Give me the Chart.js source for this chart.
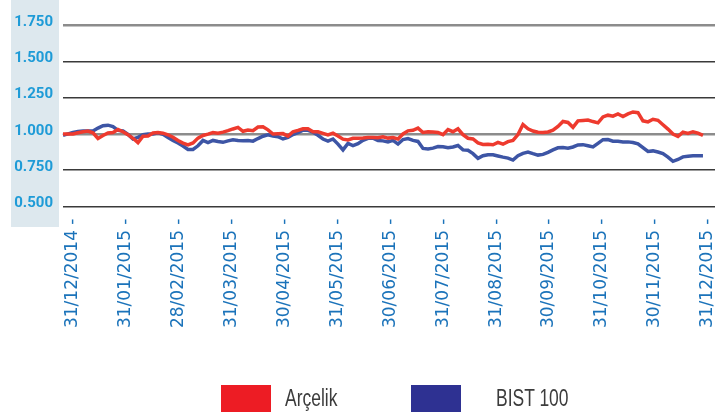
<!DOCTYPE html>
<html>
<head>
<meta charset="utf-8">
<script src="https://cdn.jsdelivr.net/npm/chart.js@4.4.1/dist/chart.umd.min.js"></script>
<style>
  html, body { margin: 0; padding: 0; background: #fff; }
  #wrap { position: relative; width: 715px; height: 413px; overflow: hidden; }
  .sw { position: absolute; top: 385px; width: 50px; height: 27px; }
  .lg { position: absolute; top: 385px; height: 27px; line-height: 27px;
        font-family: "Liberation Sans", Arial, sans-serif;
        font-size: 23px; color: #3c3c3c; white-space: nowrap;
        transform: scaleX(0.76); transform-origin: left center; }
</style>
</head>
<body>
<div id="wrap">
  <canvas id="mycanvas" width="715" height="413"></canvas>
  <div id="legend"></div>
</div>
<script>
// month-end tick labels (equally spaced on the axis)
var monthLabels = ['31/12/2014', '31/01/2015', '28/02/2015', '31/03/2015', '30/04/2015',
  '31/05/2015', '30/06/2015', '31/07/2015', '31/08/2015', '30/09/2015',
  '31/10/2015', '30/11/2015', '31/12/2015'];

var seriesNames = ['Arçelik', 'BIST 100'];
var lineColors = ['#ee3a2e', '#3d55a5'];
var legendColors = ['#ed1c24', '#2e3192'];

// normalised performance (31/12/2014 = 1), sampled evenly along the year
var arcelik = [
  1.0, 1.0, 1.0, 1.008, 1.015, 1.02, 1.008, 0.969, 0.989, 1.007,
  1.01, 1.03, 1.015, 0.995, 0.97, 0.94, 0.984, 0.985, 1.006, 1.009,
  1.005, 0.994, 0.977, 0.955, 0.937, 0.924, 0.938, 0.971, 0.989, 0.998,
  1.009, 1.005, 1.012, 1.022, 1.034, 1.045, 1.018, 1.027, 1.022, 1.047,
  1.049, 1.028, 0.999, 1.001, 1.002, 0.985, 1.015, 1.024, 1.035, 1.035,
  1.015, 1.015, 1.004, 0.993, 1.005, 0.986, 0.964, 0.958, 0.97, 0.97,
  0.972, 0.975, 0.975, 0.973, 0.98, 0.971, 0.975, 0.965, 1.0, 1.021,
  1.025, 1.04, 1.01, 1.014, 1.013, 1.01, 0.995, 1.03, 1.015, 1.035,
  0.995, 0.97, 0.965, 0.938, 0.927, 0.929, 0.925, 0.941, 0.929, 0.947,
  0.955, 0.995, 1.065, 1.035, 1.02, 1.011, 1.009, 1.013, 1.025, 1.051,
  1.086, 1.079, 1.045, 1.09, 1.093, 1.096, 1.085, 1.076, 1.117, 1.129,
  1.122, 1.137, 1.12, 1.138, 1.151, 1.146, 1.09, 1.083, 1.101, 1.094,
  1.063, 1.033, 0.999, 0.983, 1.012, 1.003, 1.015, 1.005, 0.99
];

var bist100 = [
  0.99, 1.0, 1.01, 1.017, 1.02, 1.02, 1.02, 1.04, 1.056, 1.06,
  1.05, 1.024, 1.02, 0.996, 0.965, 0.976, 0.994, 1.0, 1.0, 1.007,
  0.997, 0.976, 0.955, 0.937, 0.917, 0.893, 0.893, 0.918, 0.955, 0.94,
  0.955, 0.948, 0.942, 0.952, 0.96, 0.954, 0.952, 0.954, 0.95, 0.968,
  0.984, 0.993, 0.985, 0.981, 0.965, 0.976, 0.996, 1.008, 1.025, 1.025,
  1.012, 0.99, 0.965, 0.95, 0.965, 0.93, 0.89, 0.935, 0.92, 0.933,
  0.956, 0.97, 0.97, 0.955, 0.952, 0.945, 0.955, 0.93, 0.961, 0.968,
  0.955, 0.948, 0.9, 0.896, 0.902, 0.913, 0.911, 0.904, 0.91, 0.92,
  0.89, 0.887, 0.864, 0.832, 0.85, 0.857, 0.856, 0.848, 0.84, 0.833,
  0.82, 0.85, 0.866, 0.875, 0.864, 0.854, 0.859, 0.873, 0.89, 0.904,
  0.906, 0.902, 0.91, 0.924, 0.926, 0.918, 0.91, 0.935, 0.96, 0.961,
  0.95, 0.949, 0.945, 0.945, 0.941, 0.932, 0.905, 0.879, 0.883, 0.875,
  0.864, 0.84, 0.811, 0.824, 0.842, 0.846, 0.85, 0.85, 0.85
];

var yTicks = [0.5, 0.75, 1.0, 1.25, 1.5, 1.75];

// x is measured in months from 31/12/2014; first sample sits a little before it
var firstMonth = -0.19;
var monthsPerSample = 0.09455;

function toPoints(vals) {
  return vals.map(function(v, i) {
    return { x: firstMonth + i * monthsPerSample, y: v };
  });
}

// light panel behind the y labels
var panelPlugin = {
  id: 'panel',
  beforeDraw: function(chart) {
    var c = chart.ctx;
    c.save();
    c.fillStyle = '#dde8ee';
    c.fillRect(11, 0, 48, 227);
    c.restore();
  }
};

var ctx = document.getElementById('mycanvas');

var lineGraph = new Chart(ctx, {
  type: 'line',
  data: {
    datasets: [
      {
        label: seriesNames[0],
        data: toPoints(arcelik),
        borderColor: lineColors[0],
        borderWidth: 3.5,
        pointRadius: 0,
        tension: 0,
        clip: false
      },
      {
        label: seriesNames[1],
        data: toPoints(bist100),
        borderColor: lineColors[1],
        borderWidth: 3.5,
        pointRadius: 0,
        tension: 0,
        clip: false
      }
    ]
  },
  options: {
    responsive: false,
    animation: false,
    layout: { padding: { top: 25, left: 0, right: 0, bottom: 0 } },
    plugins: {
      legend: { display: false },
      tooltip: { enabled: false }
    },
    scales: {
      x: {
        type: 'linear',
        min: -0.19,
        max: 12.14,
        grid: { display: false },
        border: { display: false },
        afterBuildTicks: function(axis) {
          axis.ticks = monthLabels.map(function(l, i) { return { value: i }; });
        },
        afterFit: function(scale) {
          scale.height = 206.5;
          scale.paddingLeft = 0;
          scale.paddingRight = 0;
        },
        ticks: {
          autoSkip: false,
          minRotation: 90,
          maxRotation: 90,
          padding: 4,
          color: '#1b73ba',
          font: { family: 'DejaVu Sans', size: 17 },
          callback: function(value) {
            return monthLabels[value] + ' -';
          }
        }
      },
      y: {
        min: 0.5,
        max: 1.75,
        afterBuildTicks: function(axis) {
          axis.ticks = yTicks.map(function(v) { return { value: v }; });
        },
        afterFit: function(scale) {
          scale.width = 63;
        },
        border: { display: false },
        grid: {
          drawTicks: false,
          color: function(c) {
            var v = c.tick && c.tick.value;
            return (v === 1 || v === 1.75) ? '#8c8c8c' : '#3a3a3a';
          },
          lineWidth: function(c) {
            var v = c.tick && c.tick.value;
            return (v === 1 || v === 1.75) ? 2.5 : 1.5;
          }
        },
        ticks: {
          padding: 10,
          labelOffset: -3,
          color: '#1e9bd7',
          font: { family: 'Roboto', size: 15, weight: 'bold' },
          callback: function(value) {
            return value.toFixed(3);
          }
        }
      }
    }
  },
  plugins: [panelPlugin]
});

// legend below the chart
var legendPos = [[221, 285], [411, 496]];
var legend = document.getElementById('legend');
seriesNames.forEach(function(name, i) {
  var sw = document.createElement('div');
  sw.className = 'sw';
  sw.style.left = legendPos[i][0] + 'px';
  sw.style.background = legendColors[i];
  legend.appendChild(sw);
  var lg = document.createElement('div');
  lg.className = 'lg';
  lg.style.left = legendPos[i][1] + 'px';
  lg.textContent = name;
  legend.appendChild(lg);
});
</script>
</body>
</html>
